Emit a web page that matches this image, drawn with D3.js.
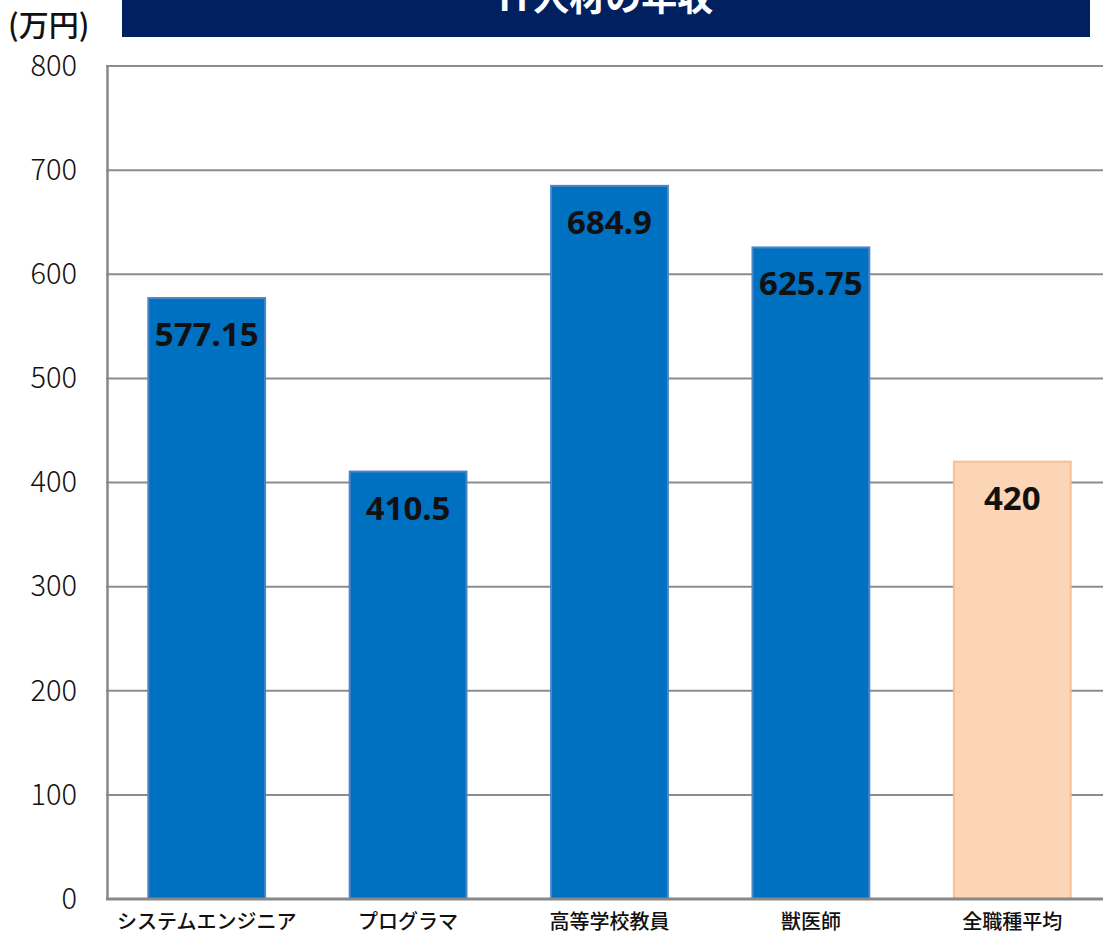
<!DOCTYPE html>
<html>
<head>
<meta charset="utf-8">
<script src="https://cdn.jsdelivr.net/npm/d3@7"></script>
<style>
  body { margin: 0; background: #fff; overflow: hidden; }
  text { font-family: "Noto Sans CJK JP", "Noto Sans", sans-serif; }
</style>
</head>
<body>
<script>
// Data
var categories = ["システムエンジニア", "プログラマ", "高等学校教員", "獣医師", "全職種平均"];
var salaries = [577.15, 410.5, 684.9, 625.75, 420];
var labels = ["577.15", "410.5", "684.9", "625.75", "420"];
var yTicks = [0, 100, 200, 300, 400, 500, 600, 700, 800];
var title = "IT人材の年収";
var unit = "(万円)";

// Width and height
var w = 1103;
var h = 936;

var svg = d3.select("body")
            .append("svg")
            .attr("width", w)
            .attr("height", h);

var x = d3.scaleBand()
          .domain(categories)
          .range([106, 1113])
          .paddingInner(0.42)
          .paddingOuter(0.21);

var y = d3.scaleLinear()
          .domain([0, 800])
          .range([899, 66]);

// Title bar (cropped at top, as in the original)
svg.append("rect")
   .attr("x", 122).attr("y", -10)
   .attr("width", 968).attr("height", 47)
   .attr("fill", "#002060");

svg.append("text")
   .attr("x", 606).attr("y", 11)
   .attr("text-anchor", "middle")
   .attr("fill", "#fff")
   .attr("font-size", 36)
   .attr("font-weight", "bold")
   .text(title);

svg.append("text")
   .attr("x", 8).attr("y", 36)
   .attr("font-size", 30)
   .attr("font-weight", "500")
   .attr("fill", "#111")
   .text(unit);

// Grid lines
svg.append("g")
   .selectAll("line")
   .data(yTicks.filter(function(d){ return d > 0; }))
   .enter()
   .append("line")
   .attr("x1", 106).attr("x2", w)
   .attr("y1", function(d){ return y(d); })
   .attr("y2", function(d){ return y(d); })
   .attr("stroke", "#8c8c8c")
   .attr("stroke-width", 2);

// Y axis
var yAxis = svg.append("g")
   .attr("transform", "translate(107,0)")
   .call(d3.axisLeft(y).tickValues(yTicks).tickSize(0).tickPadding(30));
yAxis.select(".domain").attr("stroke", "#888").attr("stroke-width", 2.5);
yAxis.selectAll("text")
   .attr("font-size", 29)
   .attr("font-weight", "300")
   .attr("fill", "#111")
   .style("font-family", '"Noto Sans CJK JP", sans-serif');

// Bars
svg.append("g")
   .selectAll("rect")
   .data(salaries)
   .enter()
   .append("rect")
   .attr("x", function(d, i){ return x(categories[i]); })
   .attr("y", function(d){ return y(d); })
   .attr("width", x.bandwidth())
   .attr("height", function(d){ return y(0) - y(d); })
   .attr("fill", function(d, i){ return i === 4 ? "#FBD5B5" : "#0070C0"; })
   .attr("stroke", function(d, i){ return i === 4 ? "#F9C08F" : "#4A86C8"; })
   .attr("stroke-width", 2);

// Value labels
svg.append("g")
   .selectAll("text")
   .data(salaries)
   .enter()
   .append("text")
   .attr("x", function(d, i){ return x(categories[i]) + x.bandwidth() / 2; })
   .attr("y", function(d){ return y(d) + 48; })
   .attr("text-anchor", "middle")
   .attr("font-size", 33)
   .attr("font-weight", "bold")
   .attr("fill", "#111")
   .style("font-family", '"Noto Sans", sans-serif')
   .text(function(d, i){ return labels[i]; });

// X axis
var xAxis = svg.append("g")
   .attr("transform", "translate(0,899)")
   .call(d3.axisBottom(x).tickSize(0).tickPadding(16));
xAxis.select(".domain").attr("stroke", "#888").attr("stroke-width", 3)
   .attr("d", "M106,0H" + w);
xAxis.selectAll("text")
   .attr("font-size", 20)
   .attr("font-weight", "500")
   .attr("fill", "#111")
   .style("font-family", '"Noto Sans CJK JP", sans-serif');
</script>
</body>
</html>
